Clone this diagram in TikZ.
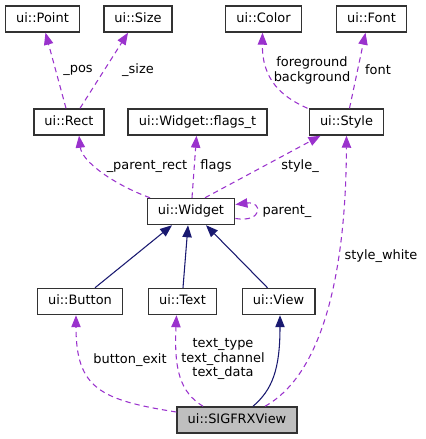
\documentclass[tikz,border=0pt]{standalone}
\usepackage{fontspec}
\usepackage{xcolor}
\setmainfont{DejaVu Sans}
\usetikzlibrary{arrows.meta}

\definecolor{usecol}{RGB}{154,50,205}
\definecolor{inhcol}{RGB}{25,25,112}
\definecolor{boxcol}{RGB}{50,50,50}

\tikzset{
  classbox/.style={draw=boxcol, line width=1.1pt, fill=white, inner xsep=8pt,
    minimum height=19.5pt, text height=7pt, text depth=2pt,
    font=\fontsize{9.7}{11.5}\selectfont},
  mainbox/.style={classbox, fill={rgb,255:red,191;green,191;blue,191}},
  usage/.style={draw=usecol, line width=0.8pt, dash pattern=on 4pt off 3pt,
    -{Triangle[length=9pt,width=7pt]}, usecol},
  inherit/.style={draw=inhcol, line width=0.8pt, -{Triangle[length=9pt,width=7pt]}, inhcol},
  edgetext/.style={inner sep=0.75pt, align=center, text=black,
    font=\fontsize{9.7}{11.2}\selectfont}
}

\begin{document}
\begin{tikzpicture}[x=0.75pt,y=0.75pt,yscale=-1,xscale=1]
\path[use as bounding box] (0,0) rectangle (425,439);

% Class nodes
\node[classbox] (point) at (42.5,19) {ui::Point};
\node[classbox] (size) at (138,19) {ui::Size};
\node[classbox] (color) at (263.5,19) {ui::Color};
\node[classbox] (font) at (371.5,19) {ui::Font};
\node[classbox] (rect) at (69,122) {ui::Rect};
\node[classbox] (flags) at (197.5,122) {ui::Widget::flags\_t};
\node[classbox] (style) at (346.5,122) {ui::Style};
\node[classbox] (widget) at (191,211.5) {ui::Widget};
\node[classbox] (button) at (80,301.5) {ui::Button};
\node[classbox] (text) at (182.5,301.5) {ui::Text};
\node[classbox] (view) at (278.5,301.5) {ui::View};
\node[mainbox] (sigfrx) at (237,420) {ui::SIGFRXView};

% Usage edges (top part)
\draw[usage] ([shift={(-3,0)}]rect.north) -- ([shift={(3,0)}]point.south);
\draw[usage] ([shift={(11,0)}]rect.north) -- ([shift={(-10,0)}]size.south);
\draw[usage] ([shift={(-41,0)}]widget.north) .. controls (115,185) and (82,162) .. ([shift={(10,0)}]rect.south);
\draw[usage] ([shift={(1,0)}]widget.north) -- ([shift={(-1,0)}]flags.south);
\draw[usage] ([shift={(14,0)}]widget.north) -- ([shift={(-26,0)}]style.south);
\draw[usage] ([shift={(-39,0)}]style.north) .. controls (282,97) and (262,80) .. ([shift={(-1,0)}]color.south);
\draw[usage] ([shift={(3,0)}]style.north) -- ([shift={(-6,0)}]font.south);
\draw[usage] ([shift={(0,7)}]widget.east) .. controls (263,223) and (263,201) .. ([shift={(0,-7)}]widget.east);

% Inheritance edges
\draw[inherit] ([shift={(15,0)}]button.north) -- ([shift={(-19,0)}]widget.south);
\draw[inherit] ([shift={(0.5,0)}]text.north) -- ([shift={(-3,0)}]widget.south);
\draw[inherit] ([shift={(-11,0)}]view.north) -- ([shift={(15,0)}]widget.south);
\draw[inherit] ([shift={(16,0)}]sigfrx.north) .. controls (272,390) and (280,370) .. ([shift={(1.5,0)}]view.south);

% Usage edges (bottom part)
\draw[usage] ([shift={(0,-8)}]sigfrx.west) .. controls (100,400) and (76,388) .. ([shift={(-4,0)}]button.south);
\draw[usage] ([shift={(-34,0)}]sigfrx.north) .. controls (180,392) and (174,370) .. ([shift={(-6,0)}]text.south);
\draw[usage] ([shift={(28,0)}]sigfrx.north) .. controls (330,370) and (346,250) .. (style.south);

% Edge labels
\node[edgetext] (lpos) at (78,70) {\_pos};
\node[edgetext] (lsize) at (138,70) {\_size};
\node[edgetext] (lparentrect) at (147,166) {\_parent\_rect};
\node[edgetext] (lflags) at (216,166) {flags};
\node[edgetext] (lstyle) at (300,166) {style\_};
\node[edgetext] (lcolor) at (312,70) {foreground\\background};
\node[edgetext] (lfont) at (378,70) {font};
\node[edgetext] (lparent) at (287,211) {parent\_};
\node[edgetext] (lstylewhite) at (381,256) {style\_white};
\node[edgetext] (lbutton) at (130,360) {button\_exit};
\node[edgetext] (ltext) at (223,359) {text\_type\\text\_channel\\text\_data};

\end{tikzpicture}
\end{document}
